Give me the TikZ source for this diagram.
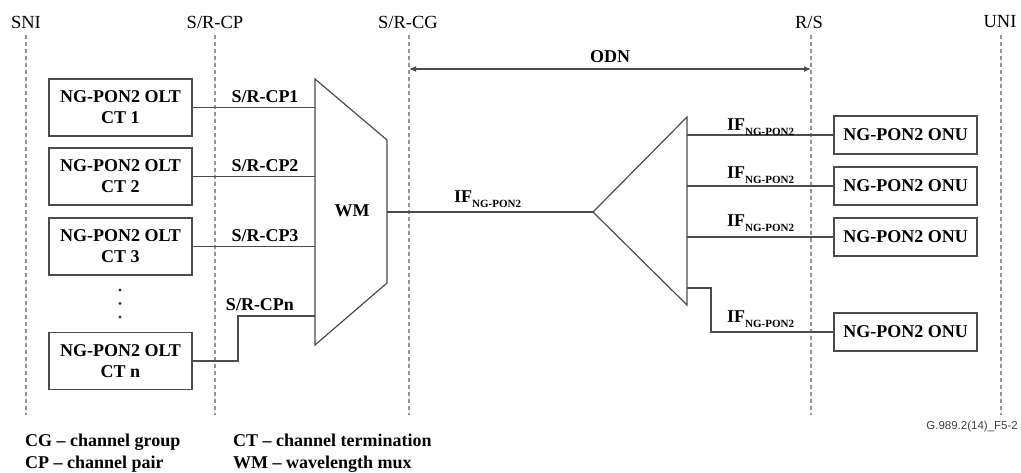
\documentclass[tikz,border=0pt]{standalone}
\usepackage{fontspec}
\setmainfont{Liberation Serif}
\newfontfamily\idfont{Liberation Sans}
\usetikzlibrary{arrows.meta}
\newcommand\IFsub{\textbf{IF}\raisebox{-5pt}{\fontsize{11}{11}\selectfont\bfseries NG-PON2}}
\begin{document}
\begin{tikzpicture}[x=1pt,y=-1pt,
  olt/.style={draw=black!70, line width=1.2pt, minimum width=143pt, minimum height=57pt, align=center, font=\fontsize{18}{21}\selectfont\bfseries, inner sep=0pt},
  onu/.style={draw=black!70, line width=1.2pt, minimum width=143pt, minimum height=38pt, font=\fontsize{18}{21}\selectfont\bfseries, inner sep=0pt},
  refline/.style={draw=gray!85, line width=1.1pt, dash pattern=on 4pt off 3pt},
  wire/.style={draw=black!70, line width=1.2pt},
  lbl/.style={font=\fontsize{18}{21}\selectfont\bfseries, inner sep=0pt},
  refpt/.style={font=\fontsize{18.5}{21}\selectfont, inner sep=0pt}
]
\useasboundingbox (0,0) rectangle (1021,473);

% reference points
\node[refpt] (sni) at (26,22) {SNI};
\node[refpt] (srcp) at (215,22) {S/R-CP};
\node[refpt] (srcg) at (408,22) {S/R-CG};
\node[refpt] (rs) at (809,22) {R/S};
\node[refpt] (uni) at (1000,22) {UNI};
\foreach \n/\x in {sniL/26, srcpL/215, srcgL/409, rsL/811, uniL/1001}{
  \coordinate (\n a) at (\x,35);
  \coordinate (\n b) at (\x,415);
  \draw[refline] (\n a) -- (\n b);
}

% ODN
\coordinate (odnL) at (409,69);
\coordinate (odnR) at (811,69);
\draw[wire, {Latex[length=7pt,width=6pt]}-{Latex[length=7pt,width=6pt]}] (odnL) -- (odnR);
\node[lbl] (odn) at (610,57) {ODN};

% OLT boxes
\node[olt] (olt1) at (120.5,107.5) {NG-PON2 OLT\\CT 1};
\node[olt] (olt2) at (120.5,176.5) {NG-PON2 OLT\\CT 2};
\node[olt] (olt3) at (120.5,246.5) {NG-PON2 OLT\\CT 3};
\node[olt] (oltn) at (120.5,361) {NG-PON2 OLT\\CT n};
\foreach \y in {290,303.5,317}{\fill[black!80] (120,\y) circle (1.6pt);}

% WM
\coordinate (wmA) at (315,79);
\coordinate (wmB) at (387,140);
\coordinate (wmC) at (387,283);
\coordinate (wmD) at (315,345);
\draw[wire] (wmA) -- (wmB) -- (wmC) -- (wmD) -- cycle;
\node[lbl] (wm) at (352,211) {WM};
\coordinate (wm1) at (315,107.5);
\coordinate (wm2) at (315,176.5);
\coordinate (wm3) at (315,246.5);
\coordinate (wmn) at (315,316);
\coordinate (wmo) at (387,212);
\coordinate (stepn) at (238,316);

\draw[wire] (olt1.east) -- (wm1);
\draw[wire] (olt2.east) -- (wm2);
\draw[wire] (olt3.east) -- (wm3);
\draw[wire] (oltn.east) -| (stepn) -- (wmn);
\node[lbl] (cp1) at (265,97) {S/R-CP1};
\node[lbl] (cp2) at (265,166) {S/R-CP2};
\node[lbl] (cp3) at (265,236) {S/R-CP3};
\node[lbl] (cpn) at (260,305) {S/R-CPn};

% splitter
\coordinate (spA) at (593,212);
\coordinate (spT) at (687,117);
\coordinate (spB) at (687,305);
\draw[wire] (spT) -- (spA) -- (spB) -- cycle;
\draw[wire] (wmo) -- (spA);
\node[lbl, anchor=base west] (ifm) at (454,203) {\IFsub};

% ONUs
\node[onu] (onu1) at (905.5,135) {NG-PON2 ONU};
\node[onu] (onu2) at (905.5,186) {NG-PON2 ONU};
\node[onu] (onu3) at (905.5,237) {NG-PON2 ONU};
\node[onu] (onu4) at (905.5,332) {NG-PON2 ONU};
\coordinate (sp1) at (687,135);
\coordinate (sp2) at (687,186);
\coordinate (sp3) at (687,237);
\coordinate (sp4) at (687,288);
\coordinate (step4) at (711,288);
\draw[wire] (sp1) -- (onu1.west);
\draw[wire] (sp2) -- (onu2.west);
\draw[wire] (sp3) -- (onu3.west);
\draw[wire] (sp4) -- (step4) |- (onu4.west);
\node[lbl, anchor=base west] (if1) at (727,131) {\IFsub};
\node[lbl, anchor=base west] (if2) at (727,179) {\IFsub};
\node[lbl, anchor=base west] (if3) at (727,227) {\IFsub};
\node[lbl, anchor=base west] (if4) at (727,323) {\IFsub};

% legend
\node[lbl, anchor=base west] (lg1) at (25,446) {CG -- channel group};
\node[lbl, anchor=base west] (lg2) at (25,468) {CP -- channel pair};
\node[lbl, anchor=base west] (lg3) at (233,446) {CT -- channel termination};
\node[lbl, anchor=base west] (lg4) at (233,468) {WM -- wavelength mux};

\node[anchor=east, inner sep=0pt, font=\idfont\fontsize{11.5}{12}\selectfont, text=black!75] (fid) at (1018,427) {G.989.2(14)\_F5-2};
\end{tikzpicture}
\end{document}
